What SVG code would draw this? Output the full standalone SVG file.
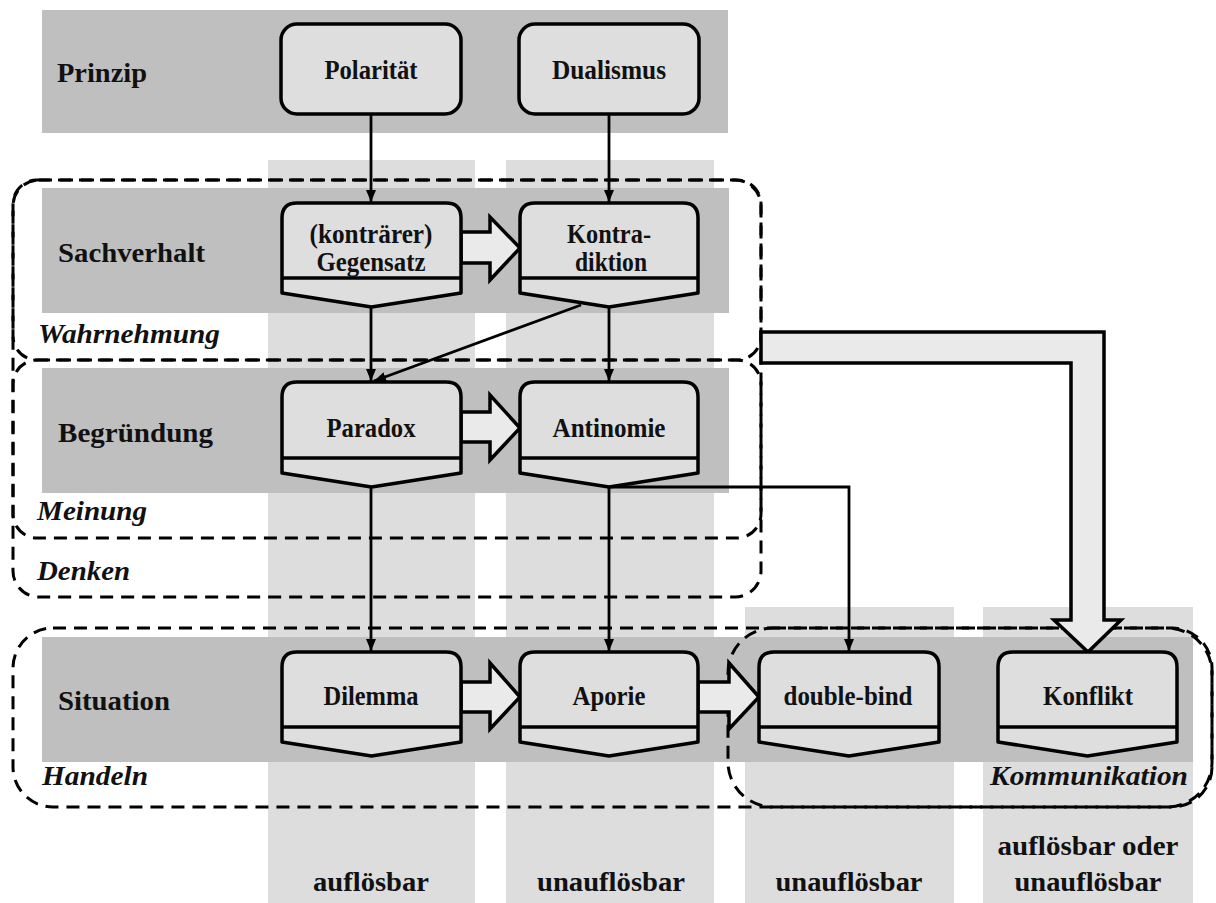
<svg xmlns="http://www.w3.org/2000/svg" width="1216" height="903" viewBox="0 0 1216 903">
<style>
.col{fill:#dddddd}
.band{fill:#bfbfbf}
.node{fill:#dedede;stroke:#000;stroke-width:3.5;stroke-linejoin:round}
.div{stroke:#000;stroke-width:3.5;fill:none}
.fat{fill:#eaeaea;stroke:#000;stroke-width:3.5;stroke-linejoin:miter}
.con{stroke:#000;stroke-width:2.8;fill:none}
.dash{fill:none;stroke:#000;stroke-width:3;stroke-dasharray:13 8}
text{font-family:"Liberation Serif","Times New Roman",serif;font-weight:bold;font-size:27px;fill:#111}
.c{text-anchor:middle}
.i{font-style:italic}
</style>
<defs>
<marker id="ah" viewBox="0 0 12 10" refX="12" refY="5" markerWidth="12" markerHeight="10" markerUnits="userSpaceOnUse" orient="auto"><path d="M0,0 L12,5 L0,10 Z" fill="#000"/></marker>
</defs>
<rect width="1216" height="903" fill="#fff"/>
<g id="columns">
<rect class="col" x="268" y="160" width="207" height="743"/>
<rect class="col" x="506" y="160" width="208" height="743"/>
<rect class="col" x="745" y="607" width="209" height="296"/>
<rect class="col" x="983" y="607" width="210" height="296"/>
</g>
<g id="bands">
<rect class="band" x="42" y="10" width="686" height="123"/>
<rect class="band" x="42" y="188" width="687" height="125"/>
<rect class="band" x="42" y="368" width="687" height="125"/>
<rect class="band" x="42" y="637" width="1151" height="125"/>
</g>
<g id="row-labels">
<text x="57" y="82" textLength="90" lengthAdjust="spacingAndGlyphs">Prinzip</text>
<text x="58" y="262" textLength="147" lengthAdjust="spacingAndGlyphs">Sachverhalt</text>
<text x="58" y="442" textLength="155" lengthAdjust="spacingAndGlyphs">Begründung</text>
<text x="58" y="710" textLength="112" lengthAdjust="spacingAndGlyphs">Situation</text>
</g>
<g id="regions">
<rect id="denken" class="dash" x="13" y="180" width="748" height="417" rx="26"/>
<rect id="wahrnehmung" class="dash" x="13" y="180" width="748" height="180" rx="24"/>
<rect id="meinung" class="dash" x="13" y="360" width="748" height="178" rx="24"/>
<rect id="handeln" class="dash" x="13" y="628" width="1199" height="179" rx="40"/>
<rect id="kommunikation" class="dash" x="728" y="628" width="484" height="179" rx="45"/>
<text class="i" x="38" y="343" textLength="182" lengthAdjust="spacingAndGlyphs">Wahrnehmung</text>
<text class="i" x="37" y="520" textLength="110" lengthAdjust="spacingAndGlyphs">Meinung</text>
<text class="i" x="37" y="580" textLength="93" lengthAdjust="spacingAndGlyphs">Denken</text>
<text class="i" x="42" y="785" textLength="106" lengthAdjust="spacingAndGlyphs">Handeln</text>
<text class="i" x="990" y="785" textLength="198" lengthAdjust="spacingAndGlyphs">Kommunikation</text>
</g>
<g id="column-labels">
<text class="c" x="371" y="891" textLength="116" lengthAdjust="spacingAndGlyphs">auflösbar</text>
<text class="c" x="611" y="891" textLength="148" lengthAdjust="spacingAndGlyphs">unauflösbar</text>
<text class="c" x="849" y="891" textLength="147" lengthAdjust="spacingAndGlyphs">unauflösbar</text>
<text class="c" x="1088" y="855" textLength="181" lengthAdjust="spacingAndGlyphs">auflösbar oder</text>
<text class="c" x="1088" y="891" textLength="147" lengthAdjust="spacingAndGlyphs">unauflösbar</text>
</g>
<g id="connectors">
<line class="con" x1="371" y1="115" x2="371" y2="202" marker-end="url(#ah)"/>
<line class="con" x1="609" y1="115" x2="609" y2="202" marker-end="url(#ah)"/>
<line class="con" x1="371" y1="308" x2="371" y2="381" marker-end="url(#ah)"/>
<line class="con" x1="609" y1="308" x2="609" y2="381" marker-end="url(#ah)"/>
<line class="con" x1="581" y1="305" x2="374" y2="381" marker-end="url(#ah)"/>
<line class="con" x1="371" y1="488" x2="371" y2="651" marker-end="url(#ah)"/>
<line class="con" x1="609" y1="488" x2="609" y2="651" marker-end="url(#ah)"/>
<polyline class="con" points="609,487 849,487 849,651" marker-end="url(#ah)"/>
<path class="fat" d="M461,232 H490 V217 L520,248 L490,280 V263 H461 Z"/>
<path class="fat" d="M461,412 H490 V395 L520,428 L490,460 V442 H461 Z"/>
<path class="fat" d="M461,682 H490 V663 L520,697 L490,729 V712 H461 Z"/>
<path class="fat" d="M698,682 H729 V663 L759,697 L729,729 V712 H698 Z"/>
<path class="fat" d="M761,332 H1104 V620 H1121 L1088,652 L1054,620 H1071 V363 H761 Z"/>
</g>
<g id="polaritaet">
<rect class="node" x="281" y="24" width="180" height="90" rx="16"/>
<text class="c" x="371" y="79" textLength="93" lengthAdjust="spacingAndGlyphs">Polarität</text>
</g>
<g id="dualismus">
<rect class="node" x="519" y="24" width="180" height="90" rx="16"/>
<text class="c" x="609" y="79" textLength="114" lengthAdjust="spacingAndGlyphs">Dualismus</text>
</g>
<g id="gegensatz">
<path class="node" d="M282,218 Q282,203 297,203 H446 Q461,203 461,218 V293 L371.5,307 L282,293 Z"/>
<line class="div" x1="282" y1="278" x2="461" y2="278"/>
<text class="c" x="371" y="243" textLength="123" lengthAdjust="spacingAndGlyphs">(konträrer)</text>
<text class="c" x="371" y="271" textLength="109" lengthAdjust="spacingAndGlyphs">Gegensatz</text>
</g>
<g id="kontradiktion">
<path class="node" d="M520,218 Q520,203 535,203 H683 Q698,203 698,218 V293 L609,307 L520,293 Z"/>
<line class="div" x1="520" y1="278" x2="698" y2="278"/>
<text class="c" x="609" y="243" textLength="84" lengthAdjust="spacingAndGlyphs">Kontra-</text>
<text class="c" x="611" y="271" textLength="72" lengthAdjust="spacingAndGlyphs">diktion</text>
</g>
<g id="paradox">
<path class="node" d="M282,397 Q282,382 297,382 H446 Q461,382 461,397 V473 L371.5,487 L282,473 Z"/>
<line class="div" x1="282" y1="458" x2="461" y2="458"/>
<text class="c" x="371" y="437" textLength="89" lengthAdjust="spacingAndGlyphs">Paradox</text>
</g>
<g id="antinomie">
<path class="node" d="M520,397 Q520,382 535,382 H683 Q698,382 698,397 V473 L609,487 L520,473 Z"/>
<line class="div" x1="520" y1="458" x2="698" y2="458"/>
<text class="c" x="609" y="437" textLength="113" lengthAdjust="spacingAndGlyphs">Antinomie</text>
</g>
<g id="dilemma">
<path class="node" d="M282,667 Q282,652 297,652 H446 Q461,652 461,667 V742 L371.5,756 L282,742 Z"/>
<line class="div" x1="282" y1="727" x2="461" y2="727"/>
<text class="c" x="371" y="705" textLength="95" lengthAdjust="spacingAndGlyphs">Dilemma</text>
</g>
<g id="aporie">
<path class="node" d="M520,667 Q520,652 535,652 H683 Q698,652 698,667 V742 L609,756 L520,742 Z"/>
<line class="div" x1="520" y1="727" x2="698" y2="727"/>
<text class="c" x="609" y="705" textLength="73" lengthAdjust="spacingAndGlyphs">Aporie</text>
</g>
<g id="doublebind">
<path class="node" d="M759,667 Q759,652 774,652 H924 Q939,652 939,667 V742 L849,756 L759,742 Z"/>
<line class="div" x1="759" y1="727" x2="939" y2="727"/>
<text class="c" x="848" y="705" textLength="129" lengthAdjust="spacingAndGlyphs">double-bind</text>
</g>
<g id="konflikt">
<path class="node" d="M998,667 Q998,652 1013,652 H1162 Q1177,652 1177,667 V742 L1087.5,756 L998,742 Z"/>
<line class="div" x1="998" y1="727" x2="1177" y2="727"/>
<text class="c" x="1088" y="705" textLength="90" lengthAdjust="spacingAndGlyphs">Konflikt</text>
</g>
</svg>
